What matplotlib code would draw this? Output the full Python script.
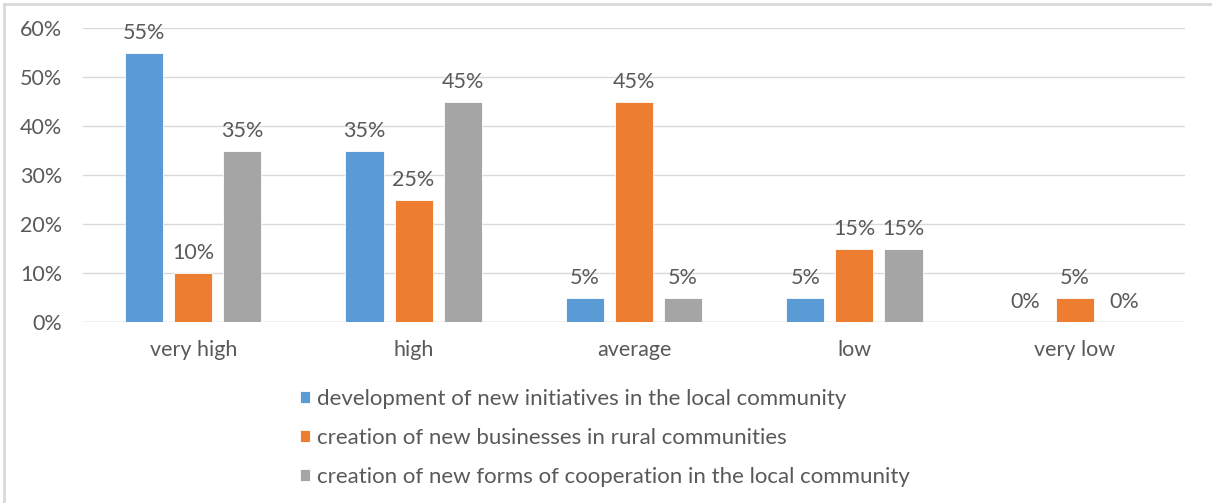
import matplotlib
matplotlib.use("Agg")
import matplotlib.pyplot as plt
import numpy as np
from matplotlib.lines import Line2D

categories = ["very high", "high", "average", "low", "very low"]
series_names = [
    "development of new initiatives in the local community",
    "creation of new businesses in rural communities",
    "creation of new forms of cooperation in the local community",
]
initiatives = [0.55, 0.35, 0.05, 0.05, 0.00]
businesses = [0.10, 0.25, 0.45, 0.15, 0.05]
cooperation = [0.35, 0.45, 0.05, 0.15, 0.00]
yticks = [0.0, 0.1, 0.2, 0.3, 0.4, 0.5, 0.6]

colors = ["#5B9BD5", "#ED7D31", "#A5A5A5"]
text_color = "#595959"
plt.rcParams["font.family"] = ["Lato", "DejaVu Sans"]
FS = 15.5

W, H = 1212, 503
fig = plt.figure(figsize=(W / 100, H / 100), dpi=100)
ax = fig.add_axes([83 / W, 1 - 322 / H, (1185 - 83) / W, (322 - 28) / H])

x = np.arange(len(categories))
width = 0.173
step = 0.223
series = [initiatives, businesses, cooperation]
for i, (vals, name, c) in enumerate(zip(series, series_names, colors)):
    bars = ax.bar(x + (i - 1) * step, vals, width, color=c, label=name,
                  edgecolor="white", linewidth=0.6, zorder=3)
    for b, v in zip(bars, vals):
        ax.annotate(f"{v*100:.0f}%", (b.get_x() + b.get_width() / 2, v),
                    xytext=(0, 7), textcoords="offset points",
                    ha="center", va="bottom", fontsize=FS, color=text_color)

ax.set_xlim(-0.5, len(categories) - 0.5)
ax.set_ylim(0, 0.6)
ax.set_yticks(yticks)
ax.set_yticklabels([f"{t*100:.0f}%" for t in yticks])
ax.set_xticks(x)
ax.set_xticklabels(categories)
ax.tick_params(axis="both", length=0, colors=text_color, labelsize=FS)
ax.tick_params(axis="y", pad=15)
ax.tick_params(axis="x", pad=13)
ax.yaxis.grid(True, color="#D9D9D9", linewidth=1, zorder=0)
for s in ax.spines.values():
    s.set_visible(False)
ax.axhline(0, color="#D9D9D9", linewidth=1, zorder=1)

handles, labels = ax.get_legend_handles_labels()
leg = fig.legend(handles, labels, loc="upper left",
                 bbox_to_anchor=(280 / W, 1 - 369 / H), frameon=False,
                 fontsize=16, labelcolor=text_color, handlelength=0.45,
                 handleheight=0.45, handletextpad=0.3, labelspacing=0.85)

# outer border (left and top)
fig.add_artist(Line2D([3.5 / W, 3.5 / W], [0, 1 - 3.5 / H], transform=fig.transFigure,
                      color="#D9D9D9", linewidth=2))
fig.add_artist(Line2D([3.5 / W, 1], [1 - 3.5 / H, 1 - 3.5 / H], transform=fig.transFigure,
                      color="#D9D9D9", linewidth=2))

fig.savefig("out.png", dpi=100)
